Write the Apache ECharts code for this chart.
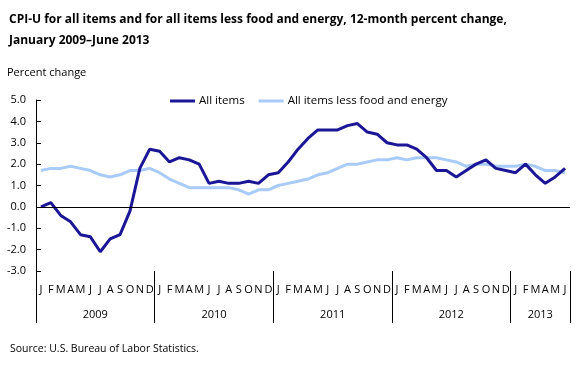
<!DOCTYPE html>
<html>
<head>
<meta charset="utf-8">
<script src="https://cdn.jsdelivr.net/npm/echarts@6/dist/echarts.min.js"></script>
<style>
  html, body { margin: 0; padding: 0; background: #fff; }
  #main { width: 580px; height: 377px; }
</style>
</head>
<body>
<div id="main"></div>
<script>
// 数据
var years = ['2009', '2010', '2011', '2012', '2013'];
var monthLetters = ['J', 'F', 'M', 'A', 'M', 'J', 'J', 'A', 'S', 'O', 'N', 'D'];
var yTicks = [-3, -2, -1, 0, 1, 2, 3, 4, 5];

// All items, Jan 2009 - Jun 2013
var allItems = [
  0.0, 0.2, -0.4, -0.7, -1.3, -1.4, -2.1, -1.5, -1.3, -0.2, 1.8, 2.7,
  2.6, 2.1, 2.3, 2.2, 2.0, 1.1, 1.2, 1.1, 1.1, 1.2, 1.1, 1.5,
  1.6, 2.1, 2.7, 3.2, 3.6, 3.6, 3.6, 3.8, 3.9, 3.5, 3.4, 3.0,
  2.9, 2.9, 2.7, 2.3, 1.7, 1.7, 1.4, 1.7, 2.0, 2.2, 1.8, 1.7,
  1.6, 2.0, 1.5, 1.1, 1.4, 1.8
];
// All items less food and energy
var lessFoodEnergy = [
  1.7, 1.8, 1.8, 1.9, 1.8, 1.7, 1.5, 1.4, 1.5, 1.7, 1.7, 1.8,
  1.6, 1.3, 1.1, 0.9, 0.9, 0.9, 0.9, 0.9, 0.8, 0.6, 0.8, 0.8,
  1.0, 1.1, 1.2, 1.3, 1.5, 1.6, 1.8, 2.0, 2.0, 2.1, 2.2, 2.2,
  2.3, 2.2, 2.3, 2.3, 2.3, 2.2, 2.1, 1.9, 2.0, 2.0, 1.9, 1.9,
  1.9, 2.0, 1.9, 1.7, 1.7, 1.6
];

// 类目: 2009-1 ... 2013-6
var categories = [];
for (var i = 0; i < allItems.length; i++) {
  categories.push(years[Math.floor(i / 12)] + '-' + (i % 12 + 1));
}

var font = 'Open Sans';
var chart = echarts.init(document.getElementById('main'));

var option = {
  backgroundColor: '#fff',
  animation: false,
  title: [{
    text: 'CPI-U for all items and for all items less food and energy, 12-month percent change,\nJanuary 2009\u2013June 2013',
    left: 4,
    top: 4,
    textStyle: { fontFamily: font, fontSize: 12, fontWeight: 'bold', color: '#000', lineHeight: 21 }
  }, {
    text: 'Percent change',
    left: 2,
    top: 62,
    textStyle: { fontFamily: font, fontSize: 11, fontWeight: 'normal', color: '#000' }
  }, {
    text: 'Source: U.S. Bureau of Labor Statistics.',
    left: 5,
    top: 339,
    textStyle: { fontFamily: font, fontSize: 10.5, fontWeight: 'normal', color: '#000' }
  }],
  legend: {
    top: 90,
    left: 165,
    itemWidth: 25,
    itemHeight: 3,
    itemGap: 14,
    icon: 'rect',
    textStyle: { fontFamily: font, fontSize: 11.5, color: '#000', padding: [0, 0, 0, -1] },
    data: ['All items', 'All items less food and energy']
  },
  grid: { left: 36, right: 10, top: 100, bottom: 106, containLabel: false },
  xAxis: [{
    type: 'category',
    data: categories,
    boundaryGap: true,
    axisLine: { show: false, onZero: false },
    axisTick: {
      show: true,
      length: 52,
      interval: function (index) { return index % 12 === 0; },
      lineStyle: { color: '#000', width: 1 }
    },
    axisLabel: {
      interval: 0,
      margin: 13,
      fontFamily: font,
      fontSize: 11,
      color: '#000',
      formatter: function (value, index) { return monthLetters[index % 12]; }
    },
    splitLine: { show: false }
  }, {
    // 年份标签
    type: 'value',
    position: 'bottom',
    min: 0,
    max: allItems.length,
    interval: 3,
    axisLine: { show: false, onZero: false },
    axisTick: { show: false },
    splitLine: { show: false },
    axisLabel: {
      margin: 38,
      fontFamily: font,
      fontSize: 11,
      color: '#000',
      showMinLabel: true,
      showMaxLabel: true,
      formatter: function (v) {
        var start = Math.round(v - 6);
        if (start % 12 === 0 && start / 12 < years.length && start + 12 <= allItems.length) return years[start / 12];
        var last = Math.floor((allItems.length - 1) / 12) * 12;
        if (v === (last + allItems.length) / 2) return years[last / 12];
        return '';
      }
    }
  }],
  yAxis: {
    type: 'value',
    min: yTicks[0],
    max: yTicks[yTicks.length - 1],
    interval: 1,
    axisLine: { show: true, lineStyle: { color: '#000', width: 1 } },
    axisTick: { show: true, inside: true, length: 5, lineStyle: { color: '#000' } },
    splitLine: { show: false },
    axisLabel: {
      margin: 10,
      fontFamily: font,
      fontSize: 11,
      color: '#000',
      formatter: function (v) { return v.toFixed(1); }
    }
  },
  series: [{
    name: 'All items less food and energy',
    type: 'line',
    data: lessFoodEnergy,
    symbol: 'none',
    z: 2,
    lineStyle: { color: '#a9cbf9', width: 3 },
    itemStyle: { color: '#a9cbf9' },
    markLine: {
      silent: true,
      symbol: 'none',
      label: { show: false },
      lineStyle: { color: '#000', width: 1, type: 'solid' },
      data: [{ yAxis: 0 }]
    }
  }, {
    name: 'All items',
    type: 'line',
    data: allItems,
    symbol: 'none',
    z: 3,
    lineStyle: { color: '#1b1696', width: 3 },
    itemStyle: { color: '#1b1696' }
  }]
};

chart.setOption(option);
</script>
</body>
</html>
